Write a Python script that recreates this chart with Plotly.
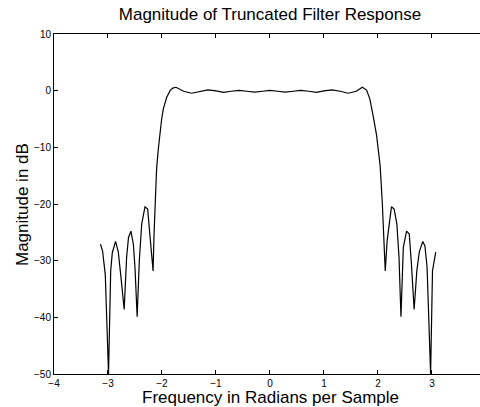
import plotly.graph_objects as go

freq = [
    -3.14, -3.10, -3.05, -2.99, -2.95, -2.92, -2.86, -2.81, -2.76, -2.70,
    -2.655, -2.62, -2.575, -2.53, -2.50, -2.46, -2.42, -2.375, -2.315, -2.265,
    -2.22, -2.165, -2.148, -2.13, -2.10, -2.068, -2.037, -2.006, -1.975, -1.914,
    -1.85, -1.80, -1.74, -1.67, -1.60, -1.45, -1.30, -1.15, -1.00, -0.86,
    -0.72, -0.57, -0.43, -0.28, -0.14, 0.0,
    0.14, 0.28, 0.43, 0.57, 0.72, 0.86, 1.00, 1.15, 1.30, 1.45,
    1.60, 1.66, 1.71, 1.79, 1.85, 1.91, 1.975, 2.04, 2.08, 2.135,
    2.17, 2.25, 2.30, 2.35, 2.39, 2.426, 2.47, 2.53, 2.58, 2.62,
    2.67, 2.72, 2.765, 2.83, 2.87, 2.91, 2.975, 3.01, 3.07,
]
mag_db = [
    -27.1, -28.3, -32.5, -50.0, -31.8, -28.6, -26.6, -28.4, -32.9, -38.6,
    -29.4, -25.9, -24.8, -27.1, -31.2, -39.9, -30.0, -23.5, -20.5, -20.9,
    -25.9, -31.8, -25.6, -19.7, -13.8, -10.3, -7.4, -5.0, -3.2, -1.2,
    0.0, 0.45, 0.6, 0.25, -0.1, -0.45, -0.1, 0.15, -0.05, -0.3,
    -0.1, 0.05, -0.1, -0.25, -0.1, 0.05,
    -0.1, -0.25, -0.1, 0.05, -0.1, -0.3, -0.05, 0.15, -0.1, -0.45,
    -0.1, 0.25, 0.6, 0.1, -1.5, -4.4, -7.9, -13.2, -19.7, -31.8,
    -26.5, -20.5, -20.9, -23.5, -29.4, -39.9, -27.6, -24.8, -25.3, -30.6,
    -38.6, -31.8, -28.5, -26.6, -27.4, -31.2, -50.0, -31.8, -28.5,
]

x_ticks = [-4, -3, -2, -1, 0, 1, 2, 3]
y_ticks = [-50, -40, -30, -20, -10, 0, 10]

title_text = "Magnitude of Truncated Filter Response"
x_label = "Frequency in Radians per Sample"
y_label = "Magnitude in dB"

font_family = "Liberation Sans, Arial, sans-serif"

def fmt(v):
    return str(v).replace("-", "\u2212")

fig = go.Figure()
fig.add_trace(go.Scatter(
    x=freq, y=mag_db, mode="lines",
    line=dict(color="black", width=1.2),
    showlegend=False, hoverinfo="skip",
))

fig.update_layout(
    width=480, height=407,
    margin=dict(l=54, r=0, t=34, b=33, autoexpand=False),
    paper_bgcolor="white", plot_bgcolor="white",
    font=dict(family=font_family, color="black"),
    title=dict(
        text=title_text, xref="container", yref="container",
        x=270 / 480, xanchor="center", y=1 - 14 / 407, yanchor="middle",
        font=dict(size=17, family=font_family, color="black"),
    ),
    xaxis=dict(
        range=[-4, 3.89], tickvals=x_ticks, ticktext=[fmt(v) for v in x_ticks],
        showgrid=False, zeroline=False, automargin=False,
        showline=True, linecolor="black", linewidth=1, mirror="allticks",
        ticks="inside", ticklen=4, tickcolor="black",
        tickfont=dict(size=10, family=font_family, color="black"),
    ),
    yaxis=dict(
        range=[-50, 10], tickvals=y_ticks, ticktext=[fmt(v) for v in y_ticks],
        showgrid=False, zeroline=False, automargin=False,
        showline=True, linecolor="black", linewidth=1, mirror=False,
        ticks="inside", ticklen=4, tickcolor="black",
        tickfont=dict(size=10, family=font_family, color="black"),
    ),
    annotations=[
        dict(text=x_label, xref="paper", yref="paper",
             x=(270 - 54) / 426, y=(374 - 397) / 340,
             xanchor="center", yanchor="middle", showarrow=False,
             font=dict(size=17, family=font_family, color="black")),
        dict(text=y_label, xref="paper", yref="paper",
             x=(22 - 54) / 426, y=(374 - 205) / 340, textangle=-90,
             xanchor="center", yanchor="middle", showarrow=False,
             font=dict(size=17, family=font_family, color="black")),
    ],
)

fig.write_html(
    "out.html",
    config={"displayModeBar": False},
    post_script="document.body.style.margin='0';document.body.style.overflow='hidden';",
)
